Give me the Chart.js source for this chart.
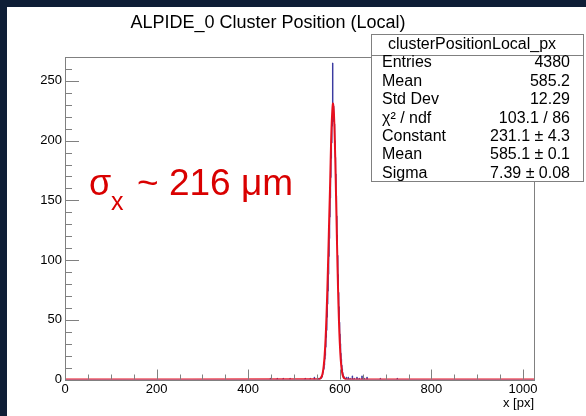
<!DOCTYPE html>
<html>
<head>
<meta charset="utf-8">
<script src="https://cdn.jsdelivr.net/npm/chart.js@4.4.0/dist/chart.umd.min.js"></script>
<style>
  html, body { margin: 0; padding: 0; background: #0e1e36; }
  #wrap { width: 586px; height: 416px; position: relative; }
</style>
</head>
<body>
<div id="wrap"><canvas id="clusterChart" width="586" height="416"></canvas></div>
<script>
// Axis ticks
const xTicks = [0, 200, 400, 600, 800, 1000];
const yTicks = [0, 50, 100, 150, 200, 250];
const xRange = [0, 1024];
const yRange = [0, 270];

// Histogram: bin low edges and counts near the peak (1 px bins)
const peakStart = 555;
const peakCounts = [1, 0, 1, 2, 1, 3, 2, 4, 6, 8, 9, 12, 17, 20, 27, 35, 41, 52, 63, 74,
  88, 103, 118, 136, 152, 169, 185, 198, 212, 265, 216, 229, 222, 214, 200, 186, 172, 154,
  137, 121, 104, 88, 73, 61, 48, 38, 30, 22, 17, 12, 9, 6, 4, 3, 2, 1, 1, 0, 1, 2];

// Isolated bins away from the peak
const sideBinsX = [448, 463, 476, 491, 524, 535, 544, 552, 618, 622, 627, 631, 637, 642, 648, 653, 659, 688, 725];
const sideBinsY = [1, 1, 1, 1, 1, 1, 2, 1, 2, 1, 3, 1, 2, 1, 3, 1, 2, 1, 1];

// Gaussian fit curve
const fitX = [0, 555, 557, 559, 561, 563, 565, 567, 569, 571, 573, 575, 577, 579, 581, 583, 585,
  587, 589, 591, 593, 595, 597, 599, 601, 603, 605, 607, 609, 611, 613, 615, 1024];
const fitY = [0, 0.2, 0.6, 1.4, 3.0, 6.2, 11.8, 20.8, 34.5, 53.6, 78.0, 106.4, 136.8, 166.0, 199.0, 220.5, 231.0,
  224.0, 201.5, 168.5, 131.0, 94.5, 63.5, 39.5, 22.8, 12.2, 6.0, 2.8, 1.2, 0.5, 0.2, 0.1, 0];

// Stats box rows
const statsTitle = 'clusterPositionLocal_px';
const statsLabels = ['Entries', 'Mean', 'Std Dev', 'χ² / ndf', 'Constant', 'Mean', 'Sigma'];
const statsValues = ['4380', '585.2', '12.29', '103.1 / 86', '231.1 ± 4.3', '585.1 ± 0.1', '7.39 ± 0.08'];

// build the full 1024-bin histogram table
const histCounts = new Array(1024).fill(0);
peakCounts.forEach((c, i) => { histCounts[peakStart + i] = c; });
sideBinsX.forEach((x, i) => { histCounts[x] = sideBinsY[i]; });
const histData = histCounts.map((c, i) => ({ x: i + 0.5, y: c }));
const fitData = fitX.map((x, i) => ({ x: x, y: fitY[i] }));

const FONT = 'Liberation Sans, Arial, Helvetica, sans-serif';

// ROOT style frame, inward ticks, title, stats box and label
const rootStylePlugin = {
  id: 'rootStyle',
  beforeDraw(chart) {
    const ctx = chart.ctx;
    ctx.save();
    ctx.fillStyle = '#0e1e36';
    ctx.fillRect(0, 0, chart.width, chart.height);
    ctx.fillStyle = '#ffffff';
    ctx.fillRect(7, 7, chart.width - 7, chart.height - 7);
    ctx.restore();
  },
  afterDatasetsDraw(chart) {
    const ctx = chart.ctx;
    const a = chart.chartArea;
    const xs = chart.scales.x;
    const ys = chart.scales.y;
    ctx.save();
    ctx.strokeStyle = '#808080';
    ctx.lineWidth = 1;
    ctx.strokeRect(Math.round(a.left) + 0.5, Math.round(a.top) + 0.5,
      Math.round(a.right - a.left), Math.round(a.bottom - a.top));
    ctx.beginPath();
    for (let v = 0; v <= 1024; v += 50) {
      const px = Math.round(xs.getPixelForValue(v)) + 0.5;
      const len = v % 200 === 0 ? 10 : 5;
      ctx.moveTo(px, a.bottom);
      ctx.lineTo(px, a.bottom - len);
    }
    for (let v = 0; v <= 270; v += 10) {
      const py = Math.round(ys.getPixelForValue(v)) + 0.5;
      const len = v % 50 === 0 ? 14 : 7;
      ctx.moveTo(a.left, py);
      ctx.lineTo(a.left + len, py);
    }
    ctx.stroke();
    ctx.restore();
  },
  afterDraw(chart) {
    const ctx = chart.ctx;
    ctx.save();
    // title
    ctx.fillStyle = '#000';
    ctx.font = '18px ' + FONT;
    ctx.textAlign = 'center';
    ctx.textBaseline = 'middle';
    ctx.fillText('ALPIDE_0 Cluster Position (Local)', 268, 23);

    // stats box
    const bx = 371, by = 34, bw = 212, bh = 147;
    ctx.fillStyle = '#fff';
    ctx.fillRect(bx, by, bw, bh);
    ctx.strokeStyle = '#808080';
    ctx.lineWidth = 1;
    ctx.strokeRect(bx + 0.5, by + 0.5, bw, bh);
    ctx.beginPath();
    ctx.moveTo(bx, by + 21.5);
    ctx.lineTo(bx + bw, by + 21.5);
    ctx.stroke();
    ctx.fillStyle = '#000';
    ctx.font = '16px ' + FONT;
    ctx.fillText(statsTitle, 472, by + 11);
    statsLabels.forEach((lab, i) => {
      const y = 63 + i * 18.4;
      ctx.textAlign = 'left';
      ctx.fillText(lab, 382, y);
      ctx.textAlign = 'right';
      ctx.fillText(statsValues[i], 570, y);
    });

    // resolution label
    ctx.fillStyle = '#d90000';
    ctx.textAlign = 'left';
    ctx.textBaseline = 'alphabetic';
    ctx.font = '36px ' + FONT;
    ctx.fillText('σ', 89, 195);
    ctx.font = '25px ' + FONT;
    ctx.fillText('x', 111, 210);
    ctx.font = '37px ' + FONT;
    ctx.fillText('~ 216 μm', 137, 195);

    // x axis title
    ctx.fillStyle = '#000';
    ctx.font = '13px ' + FONT;
    ctx.textAlign = 'right';
    ctx.textBaseline = 'middle';
    ctx.fillText('x [px]', 534, 403);
    ctx.restore();
  }
};

const ctx = document.getElementById('clusterChart').getContext('2d');
new Chart(ctx, {
  type: 'line',
  data: {
    datasets: [
      {
        label: 'fit',
        data: fitData,
        borderColor: '#e8101e',
        borderWidth: 2,
        pointRadius: 0,
        tension: 0.3,
        order: 0
      },
      {
        label: 'clusterPositionLocal_px',
        data: histData,
        borderColor: '#3a3aa0',
        borderWidth: 1,
        pointRadius: 0,
        stepped: 'middle',
        order: 1
      }
    ]
  },
  options: {
    responsive: false,
    animation: false,
    layout: { padding: { left: 0, right: 52, top: 57, bottom: 0 } },
    scales: {
      x: {
        type: 'linear',
        min: xRange[0],
        max: xRange[1],
        afterBuildTicks: axis => { axis.ticks = xTicks.map(v => ({ value: v })); },
        afterFit: axis => { axis.height = 36.5; },
        grid: { display: false, drawTicks: false },
        border: { display: false },
        ticks: {
          color: '#000',
          font: { family: FONT, size: 13 },
          padding: 2,
          maxRotation: 0,
          callback: v => String(v)
        }
      },
      y: {
        type: 'linear',
        min: yRange[0],
        max: yRange[1],
        afterBuildTicks: axis => { axis.ticks = yTicks.map(v => ({ value: v })); },
        afterFit: axis => { axis.width = 65; },
        grid: { display: false, drawTicks: false },
        border: { display: false },
        ticks: {
          color: '#000',
          font: { family: FONT, size: 13 },
          padding: 3,
          callback: v => String(v)
        }
      }
    },
    plugins: {
      legend: { display: false },
      title: { display: false },
      tooltip: { enabled: false }
    }
  },
  plugins: [rootStylePlugin]
});
</script>
</body>
</html>
